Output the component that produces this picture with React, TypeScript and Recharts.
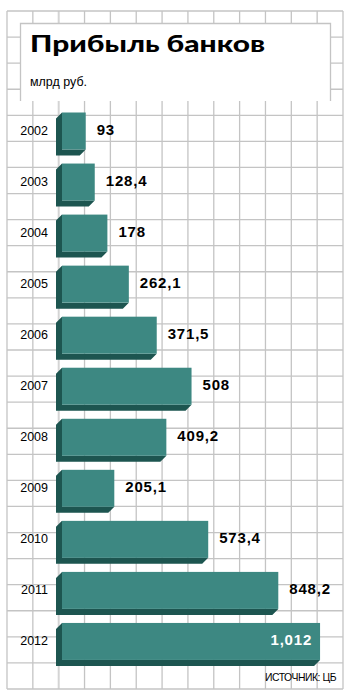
import React from 'react';
import { BarChart, Bar, XAxis, YAxis, LabelList } from 'recharts';

const years = ['2002', '2003', '2004', '2005', '2006', '2007', '2008', '2009', '2010', '2011', '2012'];
const profits = [93, 128.4, 178, 262.1, 371.5, 508, 409.2, 205.1, 573.4, 848.2, 1012];
const profitLabels = ['93', '128,4', '178', '262,1', '371,5', '508', '409,2', '205,1', '573,4', '848,2', '1,012'];

const data = years.map((year, i) => ({ year, value: profits[i], label: profitLabels[i] }));
const maxValue = Math.max(...profits);

const W = 352;
const H = 697;
const FRONT = '#3d8882';
const SIDE = '#1d5550';
const GRID = '#c4c4c4';
const DEPTH = 6;

const Grid = () => {
    const left = 7, right = 343, top = 11, bottom = 689;
    const cols = 13, rows = 26;
    const dx = (right - left) / cols;
    const dy = (bottom - top) / rows;
    return (
        <svg width={W} height={H} style={{ position: 'absolute', left: 0, top: 0 }}>
            <rect x={0} y={0} width={W} height={H} fill="#fff" />
            {Array.from({ length: cols + 1 }, (_, i) => (
                <line key={'v' + i} x1={left + i * dx} x2={left + i * dx} y1={top} y2={bottom}
                    stroke={i === 2 ? '#d4d4d4' : GRID} strokeWidth={i === 2 ? 2 : 1.3} />
            ))}
            {Array.from({ length: rows + 1 }, (_, j) => (
                <line key={'h' + j} x1={left} x2={right} y1={top + j * dy} y2={top + j * dy}
                    stroke={GRID} strokeWidth={1.3} />
            ))}
            <rect x={20} y={23} width={311} height={78} fill="#fff" />
            <path d="M20.5 101 V23.5 H330.5 V101" fill="none" stroke={GRID} strokeWidth={1.3} />
            <text x={30} y={52} fontFamily="Lato, 'DejaVu Sans', sans-serif" fontWeight={900} fontSize={23}
                textLength={235} lengthAdjust="spacingAndGlyphs" fill="#000">Прибыль банков</text>
            <text x={30} y={86} fontFamily="'Liberation Sans', Arial, sans-serif" fontSize={12.5}
                textLength={57} lengthAdjust="spacingAndGlyphs" fill="#000">млрд руб.</text>
            <text x={336} y={680.5} textAnchor="end" fontFamily="'Liberation Sans', Arial, sans-serif" fontSize={11}
                letterSpacing={-0.5} textLength={71} lengthAdjust="spacingAndGlyphs" fill="#000">ИСТОЧНИК: ЦБ</text>
        </svg>
    );
};

const Bar3D = (props: any) => {
    const { x, y, width, height } = props;
    const d = DEPTH;
    const shadow = [
        [x, y], [x - d, y + d], [x - d, y + height + d], [x + width - d, y + height + d],
        [x + width, y + height], [x, y + height],
    ].map(p => p.join(',')).join(' ');
    return (
        <g>
            <polygon points={shadow} fill={SIDE} />
            <rect x={x} y={y} width={width} height={height} fill={FRONT} />
        </g>
    );
};

const YearTick = (props: any) => {
    const { y, payload } = props;
    return (
        <text x={48} y={y} textAnchor="end" dominantBaseline="central"
            fontFamily="'Liberation Sans', Arial, sans-serif" fontSize={12.5} fill="#000">
            {payload.value}
        </text>
    );
};

const ValueLabel = (props: any) => {
    const { x, y, width, height, index } = props;
    const item = data[index];
    const inside = item.value === maxValue;
    const cy = y + height / 2 - 2;
    return (
        <text x={inside ? x + width - 8 : x + width + 11} y={cy}
            textAnchor={inside ? 'end' : 'start'} dominantBaseline="central"
            fontFamily="'Liberation Sans', Arial, sans-serif" fontWeight={700} fontSize={15}
            letterSpacing={0.8} fill={inside ? '#fff' : '#000'}>
            {item.label}
        </text>
    );
};

export default function App() {
    return (
        <div style={{ position: 'absolute', left: 0, top: 0, width: W, height: H, overflow: 'hidden' }}>
            <Grid />
            <div style={{ position: 'absolute', left: 0, top: 0 }}>
                <BarChart width={W} height={H} data={data} layout="vertical"
                    margin={{ top: 105.5, right: 9.5, bottom: 30, left: 0 }} barCategoryGap={0}>
                    <XAxis type="number" domain={[0, 1100]} hide />
                    <YAxis type="category" dataKey="year" width={62} axisLine={false} tickLine={false}
                        tick={<YearTick />} interval={0} />
                    <Bar dataKey="value" barSize={37} shape={<Bar3D />} isAnimationActive={false}>
                        <LabelList dataKey="value" content={<ValueLabel />} />
                    </Bar>
                </BarChart>
            </div>
        </div>
    );
}
